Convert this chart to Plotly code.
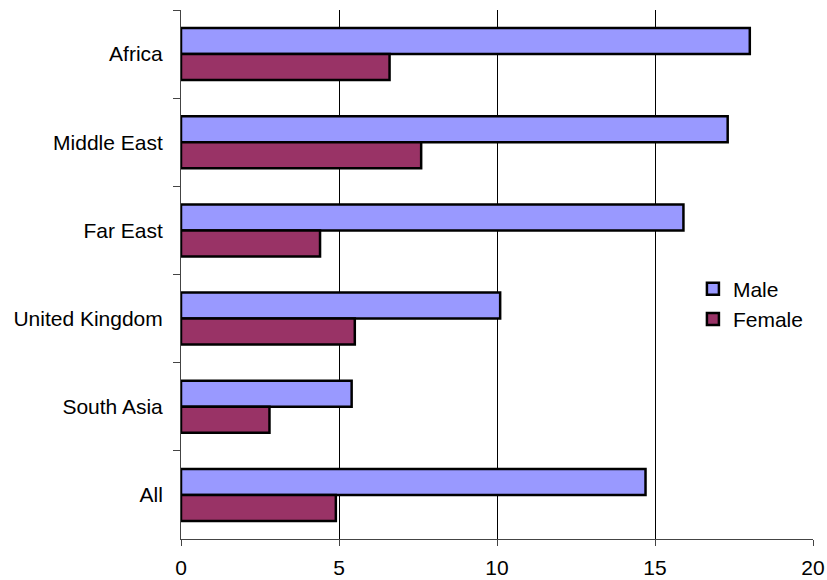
import plotly.graph_objects as go

categories = ["Africa", "Middle East", "Far East", "United Kingdom", "South Asia", "All"]
male = [18.0, 17.3, 15.9, 10.1, 5.4, 14.7]
female = [6.6, 7.6, 4.4, 5.5, 2.8, 4.9]
x_ticks = [0, 5, 10, 15, 20]

FONT = "Liberation Sans, Arial, sans-serif"

fig = go.Figure()
fig.add_trace(go.Bar(
    y=categories, x=male, name="Male", orientation="h",
    marker=dict(color="#9999FF", line=dict(color="black", width=2.5)),
))
fig.add_trace(go.Bar(
    y=categories, x=female, name="Female", orientation="h",
    marker=dict(color="#993366", line=dict(color="black", width=2.5)),
))

fig.update_layout(
    width=827, height=580,
    margin=dict(l=181, r=14, t=10, b=41, autoexpand=False),
    paper_bgcolor="white", plot_bgcolor="white",
    barmode="group", bargap=0.41, bargroupgap=0,
    font=dict(family=FONT, size=21, color="black"),
    showlegend=True,
    legend=dict(
        x=0.81, y=0.444, xanchor="left", yanchor="middle",
        bgcolor="rgba(0,0,0,0)", font=dict(size=21),
        itemwidth=30, tracegroupgap=0,
    ),
)
fig.update_xaxes(
    range=[0, 20], tickvals=x_ticks, ticktext=[str(v) for v in x_ticks],
    showgrid=True, gridcolor="black", gridwidth=1,
    showline=True, linecolor="#444444", linewidth=1,
    ticks="outside", ticklen=6, tickcolor="#444444",
    ticklabelstandoff=4,
    zeroline=False, automargin=False,
)
fig.update_yaxes(
    categoryorder="array", categoryarray=categories,
    autorange="reversed",
    showgrid=False, showline=True, linecolor="#444444", linewidth=1,
    ticks="outside", tickson="boundaries", ticklen=7, tickcolor="#444444",
    ticklabelstandoff=13, automargin=False,
)

fig.write_html(
    "out.html",
    config={"displayModeBar": False},
    post_script="document.body.style.margin='0';document.body.style.overflow='hidden';",
)
